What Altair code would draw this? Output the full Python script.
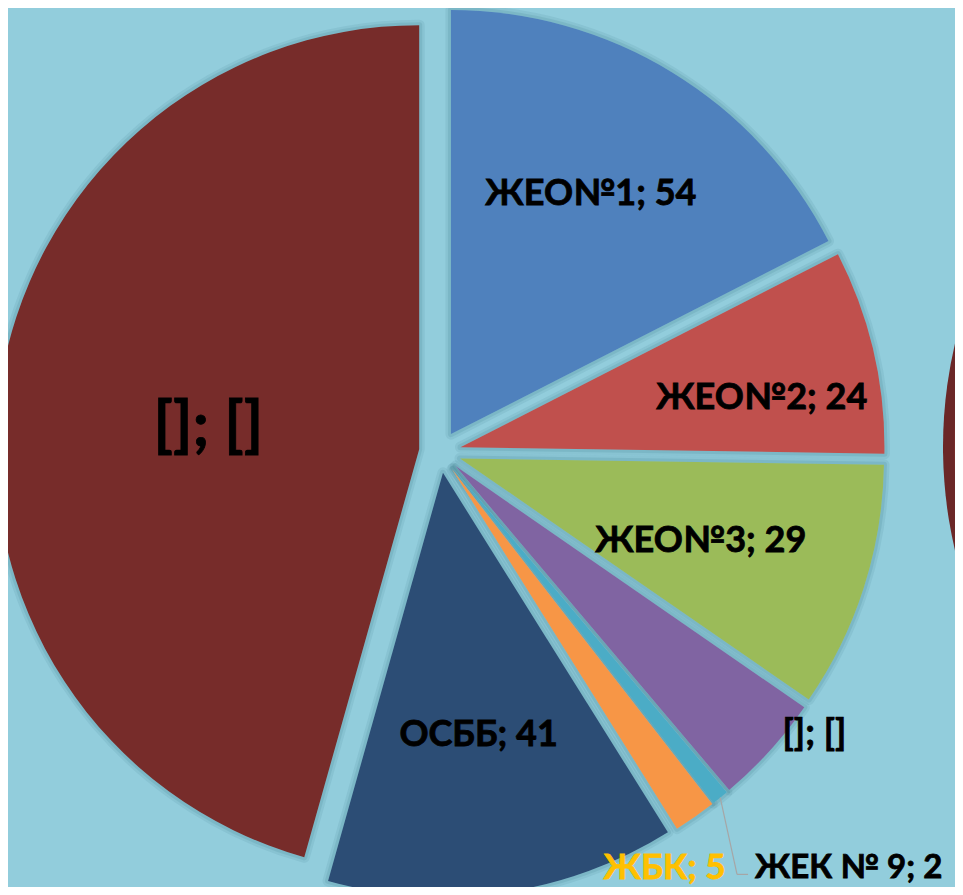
import altair as alt
import pandas as pd

# ---- data ----
labels = ["ЖЕО№1", "ЖЕО№2", "ЖЕО№3", "[]", "ЖЕК № 9", "ЖБК", "ОСББ", "[]"]
value_text = ["54", "24", "29", "[]", "2", "5", "41", "[]"]
values = [54, 24, 29, 13, 2, 5, 41, 141]
colors = ["#4F81BD", "#C0504D", "#9BBB59", "#8064A2", "#4BACC6", "#F79646", "#2C4D75", "#772C2A"]

# ---- label layout (style, not data) ----
label_r = [0.655, 0.72, 0.60, 1.056, 1.182, 1.066, 0.623, 0.50]
label_dt = [-1.2, 3.8, 1.1, -5.5, 2.0, 6.9, 0.4, -1.8]
label_size = [36, 36, 36, 36, 33, 35, 36, 62]
label_color = ["#000000", "#000000", "#000000", "#000000", "#000000", "#FFC000", "#000000", "#000000"]
label_align = ["center", "center", "center", "center", "left", "center", "center", "center"]

CX, CY, R, D = 432, 444, 424, 21
FONT = "Lato"

df = pd.DataFrame({
    "idx": list(range(len(values))),
    "value": values,
    "color": colors,
    "ltext": [f"{l}; {v}" for l, v in zip(labels, value_text)],
    "lr": label_r,
    "ldt": label_dt,
    "lsize": label_size,
    "lcolor": label_color,
    "lalign": label_align,
})

base = alt.Chart(df).transform_window(
    cum="sum(value)", sort=[alt.SortField("idx")], frame=[None, 0]
).transform_joinaggregate(
    total="sum(value)"
).transform_calculate(
    t0="(datum.cum - datum.value) / datum.total * 2 * PI",
    t1="datum.cum / datum.total * 2 * PI",
    mid="(datum.cum - datum.value / 2) / datum.total * 2 * PI",
    px=f"{CX} + {D} * sin(datum.mid)",
    py=f"{CY} - {D} * cos(datum.mid)",
    la="datum.mid + datum.ldt * PI / 180",
    lx=f"datum.px + datum.lr * {R} * sin(datum.la)",
    ly=f"datum.py - datum.lr * {R} * cos(datum.la)",
)

enc = dict(
    theta=alt.Theta("t0:Q", scale=None, stack=None),
    theta2="t1:Q",
    x=alt.X("px:Q", scale=None),
    y=alt.Y("py:Q", scale=None),
)

# soft shadow under the slices
shadow1 = base.mark_arc(radius=R, fill="#92CDDC", stroke="#2F6F80", strokeWidth=11,
                        strokeOpacity=0.10, strokeJoin="round").encode(**enc)
shadow2 = base.mark_arc(radius=R, fill="#92CDDC", stroke="#2F6F80", strokeWidth=6,
                        strokeOpacity=0.14, strokeJoin="round").encode(**enc)

arcs = base.mark_arc(radius=R).encode(
    color=alt.Color("color:N", scale=None), **enc
)

# edge of the neighbouring pie visible at the right border
other = alt.Chart(pd.DataFrame({"a": [0]}))
other_outer = other.mark_arc(radius=452, theta=3.5, theta2=5.9, color="#6B2727").encode(
    x=alt.value(1387), y=alt.value(439)
)
other_inner = other.mark_arc(radius=441, theta=3.5, theta2=5.9, color="#772C2A").encode(
    x=alt.value(1387), y=alt.value(439)
)

leader = base.transform_filter("datum.lalign == 'left'").transform_calculate(
    sx=f"datum.px + {R} * sin(datum.mid)",
    sy=f"datum.py - {R} * cos(datum.mid)",
    ex="datum.lx - 18",
    ey="datum.ly + 6",
)
leader1 = leader.mark_rule(color="#A6A6A6", strokeWidth=1.2).encode(
    x=alt.X("sx:Q", scale=None), y=alt.Y("sy:Q", scale=None),
    x2="ex:Q", y2="ey:Q",
)
leader2 = leader.transform_calculate(fx="datum.lx - 7").mark_rule(
    color="#A6A6A6", strokeWidth=1.2
).encode(
    x=alt.X("ex:Q", scale=None), y=alt.Y("ey:Q", scale=None),
    x2="fx:Q",
)

text_enc = dict(
    x=alt.X("lx:Q", scale=None), y=alt.Y("ly:Q", scale=None),
    text="ltext:N",
    size=alt.Size("lsize:Q", scale=None),
    color=alt.Color("lcolor:N", scale=None),
    stroke=alt.Stroke("lcolor:N", scale=None),
)
text_c = base.transform_filter("datum.lalign == 'center'").mark_text(
    font=FONT, fontWeight="bold", align="center", baseline="middle", strokeWidth=0.8
).encode(**text_enc)
text_l = base.transform_filter("datum.lalign == 'left'").mark_text(
    font=FONT, fontWeight="bold", align="left", baseline="middle", strokeWidth=0.8
).encode(**text_enc)

chart = alt.layer(shadow1, shadow2, arcs, other_outer, other_inner, leader1, leader2,
                  text_c, text_l).properties(
    width=947, height=879, autosize=alt.AutoSizeParams(type="none"), padding=0,
    background="#92CDDC",
).configure_view(stroke=None)

chart.save("out.html", embed_options={"renderer": "svg", "actions": False})
